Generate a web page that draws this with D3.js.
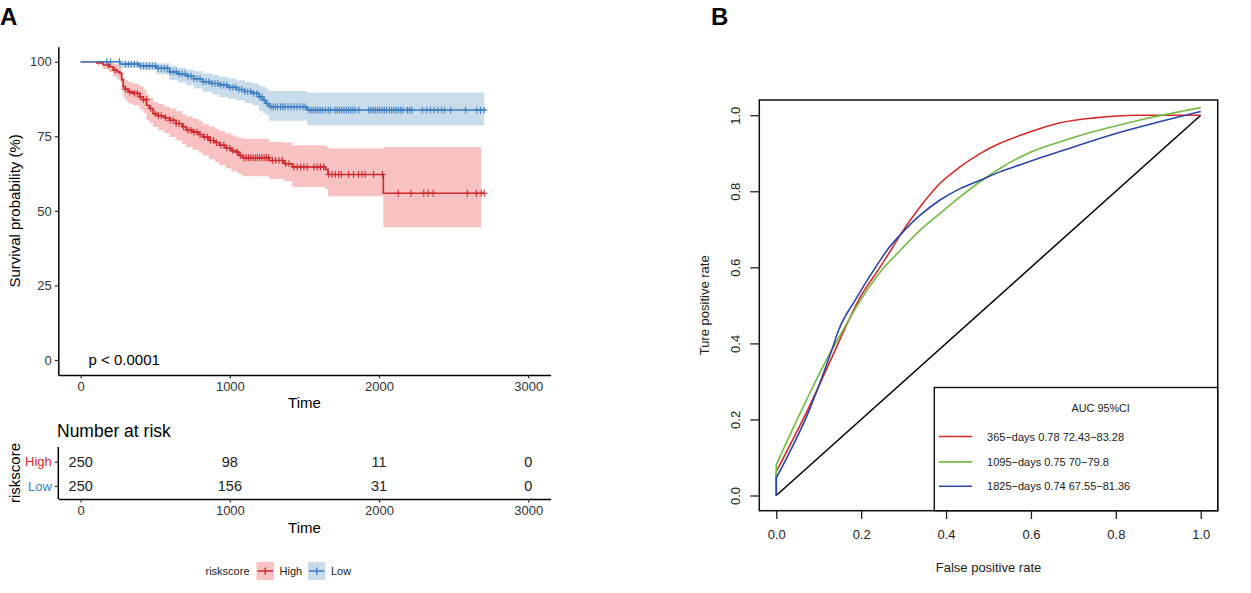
<!DOCTYPE html>
<html><head><meta charset="utf-8">
<script src="https://cdn.jsdelivr.net/npm/d3@7"></script>
<style>
body{margin:0;background:#fff}
svg{display:block}
text{font-family:"Liberation Sans",Arial,Helvetica,sans-serif}
</style>
</head><body>
<svg id="c" width="1251" height="593"></svg>
<script>
// ---------------- Panel A data (Kaplan-Meier) ----------------
const groups = ["High", "Low"];
const highTimes = [0,108,151,190,218,245,263,275,285,300,318,350,396,420,441,460,485,520,560,596,640,680,707,750,790,818,860,900,929,970,1010,1041,1060,1085,1263,1363,1418,1641,1658,2029];
const highSurv  = [100,99.6,98.9,98.3,97.2,96.6,96.1,94.0,91.6,90.8,89.9,89.4,88.2,87.3,85.4,84.3,82.6,81.9,81.2,80.4,79.3,78.2,77.0,76.4,75.6,74.8,73.6,72.9,72.0,71.0,70.2,69.7,68.6,67.8,66.9,65.8,64.7,63.9,62.2,55.9];
const highLower = [100,99,97.5,96.5,95,94,93.3,90.5,88.2,87,86,85.4,84,82.8,80.5,79.5,78.1,77,76,74.8,73.6,72.4,71.4,70.5,69.6,68.6,67.3,66.4,65.3,64.3,63.3,63.0,62.2,61.6,60.8,60.0,58.0,57.3,54.9,44.5];
const highUpper = [100,100,100,99.8,99.4,99,98.5,96.5,94.5,93.8,93.2,92.6,91.8,90.6,88.8,87.8,86.5,85.8,85.0,84.3,83.4,82.4,81.6,80.9,80.0,79.0,78.2,77.5,76.8,76.0,75.3,74.8,74.5,74.2,73.1,72.8,72.0,71.6,70.9,71.4];
const highLineEnd = 2710, highBandEnd = 2685;
const highCensor = [185,230,300,330,360,380,400,420,440,470,500,520,540,570,600,620,640,660,690,720,740,760,780,800,830,850,870,890,910,940,960,980,1000,1020,1050,1070,1095,1110,1125,1140,1155,1170,1185,1200,1215,1230,1245,1260,1285,1307,1329,1352,1374,1396,1429,1452,1474,1496,1518,1563,1585,1607,1629,1663,1685,1707,1729,1747,1796,1829,1863,1885,1907,1963,2023,2129,2214,2300,2329,2363,2592,2652,2685,2705];

const lowTimes  = [0,263,396,508,596,650,707,760,818,880,929,985,1041,1100,1152,1196,1218,1241,1263,1518];
const lowSurv   = [100,99.2,98.6,97.8,96.6,95.9,95.2,94.3,93.3,92.7,92.2,91.4,90.7,90.0,89.4,88.2,87.1,86.0,84.9,83.8];
const lowLower  = [100,98.0,97.2,95.8,93.8,93.0,92.2,91.0,89.9,89.0,88.2,87.6,87.1,86.2,85.4,83.6,82.8,82.1,80.2,78.7];
const lowUpper  = [100,100,99.8,99.5,98.6,98.0,97.4,96.8,96.1,95.6,95.0,94.4,93.8,93.2,92.7,91.9,91.6,91.0,90.2,89.7];
const lowLineEnd = 2718, lowBandEnd = 2705;
const lowCensor = [175,200,260,300,320,340,360,380,400,420,440,460,480,500,520,540,560,580,600,620,640,660,680,700,720,740,760,780,800,820,840,860,880,900,920,940,960,980,1000,1020,1040,1060,1080,1100,1120,1140,1160,1180,1200,1215,1230,1250,1275,1290,1305,1320,1340,1355,1370,1390,1410,1430,1450,1470,1490,1505,1530,1545,1560,1575,1590,1605,1620,1640,1660,1675,1705,1720,1735,1750,1765,1780,1795,1810,1825,1840,1865,1930,1945,1960,1975,1990,2005,2020,2035,2050,2070,2085,2100,2115,2130,2145,2160,2190,2205,2220,2290,2320,2345,2370,2395,2420,2440,2480,2580,2655,2680,2705];

const kmTicksX = [0,1000,2000,3000];
const kmTicksY = [0,25,50,75,100];
const riskTimes = [0,1000,2000,3000];
const riskHigh = [250,98,11,0];
const riskLow  = [250,156,31,0];
const pText = "p < 0.0001";

// ---------------- Panel B data (time-dependent ROC) ----------------
const rocLabels = ["365\u2212days 0.78 72.43\u221283.28","1095\u2212days 0.75 70\u221279.8","1825\u2212days 0.74 67.55\u221281.36"];
const roc365FPR  = [0,0,0.074,0.139,0.160,0.194,0.245,0.270,0.292,0.339,0.386,0.433,0.480,0.527,0.575,0.622,0.669,0.75,0.85,1];
const roc365TPR  = [0,0.063,0.225,0.383,0.435,0.514,0.601,0.645,0.685,0.759,0.821,0.864,0.899,0.926,0.947,0.965,0.980,0.993,1.0,1.0];
const roc1095FPR = [0,0,0.060,0.127,0.155,0.191,0.245,0.290,0.339,0.386,0.433,0.480,0.527,0.575,0.622,0.669,0.699,0.783,0.867,1];
const roc1095TPR = [0,0.081,0.225,0.375,0.430,0.500,0.588,0.642,0.698,0.742,0.785,0.825,0.860,0.890,0.913,0.930,0.941,0.967,0.990,1.02];
const roc1825FPR = [0,0,0.078,0.131,0.147,0.186,0.245,0.261,0.292,0.339,0.386,0.433,0.480,0.527,0.575,0.622,0.669,0.699,0.8,0.9,1];
const roc1825TPR = [0,0.046,0.225,0.383,0.435,0.514,0.619,0.645,0.685,0.737,0.777,0.807,0.829,0.851,0.870,0.888,0.905,0.916,0.952,0.982,1.01];
const rocTicks = [0,0.2,0.4,0.6,0.8,1.0];

// ---------------- styles ----------------
const colHigh = "#CC2A2E", colLow = "#3E7FC1";
const bandHigh = "#E41A1C", bandLow = "#377EB8";
const rocCols = ["#D42B2B","#74BC45","#2C46A6"];

const svg = d3.select("#c");
svg.append("rect").attr("width",1251).attr("height",593).attr("fill","#fff");

// Panel letters
svg.append("text").attr("x",0).attr("y",25).attr("font-size",24).attr("font-weight","bold").text("A");
svg.append("text").attr("x",711).attr("y",25).attr("font-size",24).attr("font-weight","bold").text("B");

// ================= Panel A =================
const kx = d3.scaleLinear().domain([-150,3150]).range([58.3,550.6]);
const ky = d3.scaleLinear().domain([-5,105]).range([374.9,46.8]);

function zipBand(t,lo,hi,end){ const a=t.map((d,i)=>({t:d,lo:lo[i],hi:hi[i]})); a.push({t:end,lo:lo[lo.length-1],hi:hi[hi.length-1]}); return a; }
function zipLine(t,s,end){ const a=t.map((d,i)=>({t:d,s:s[i]})); a.push({t:end,s:s[s.length-1]}); return a; }
function survAt(t,times,surv){ const i=d3.bisectRight(times,t)-1; return surv[Math.max(0,i)]; }

const area = d3.area().curve(d3.curveStepAfter).x(d=>kx(d.t)).y0(d=>ky(d.lo)).y1(d=>ky(d.hi));
const line = d3.line().curve(d3.curveStepAfter).x(d=>kx(d.t)).y(d=>ky(d.s));

const gA = svg.append("g");
gA.append("path").datum(zipBand(highTimes,highLower,highUpper,highBandEnd)).attr("d",area).attr("fill",bandHigh).attr("fill-opacity",0.27);
gA.append("path").datum(zipBand(lowTimes,lowLower,lowUpper,lowBandEnd)).attr("d",area).attr("fill",bandLow).attr("fill-opacity",0.27);
gA.append("path").datum(zipLine(highTimes,highSurv,highLineEnd)).attr("d",line).attr("fill","none").attr("stroke",colHigh).attr("stroke-width",1.6);
gA.append("path").datum(zipLine(lowTimes,lowSurv,lowLineEnd)).attr("d",line).attr("fill","none").attr("stroke",colLow).attr("stroke-width",1.6);

function censor(times,tArr,sArr,col){
  gA.append("g").selectAll("path").data(times).join("path")
    .attr("d",t=>{const x=kx(t), y=ky(survAt(t,tArr,sArr)); return `M${x-3.3},${y}H${x+3.3}M${x},${y-3.4}V${y+3.4}`;})
    .attr("stroke",col).attr("stroke-width",1.1).attr("fill","none");
}
censor(highCensor,highTimes,highSurv,colHigh);
censor(lowCensor,lowTimes,lowSurv,colLow);

// axes
const fmtInt = d3.format("d");
const axY = gA.append("g").attr("transform",`translate(${kx.range()[0]},0)`)
  .call(d3.axisLeft(ky).tickValues(kmTicksY).tickFormat(fmtInt).tickSize(3.5).tickSizeOuter(0).tickPadding(3));
const axX = gA.append("g").attr("transform",`translate(0,${ky.range()[0]})`)
  .call(d3.axisBottom(kx).tickValues(kmTicksX).tickFormat(fmtInt).tickSize(3.5).tickSizeOuter(0).tickPadding(3.5));
[axY,axX].forEach(a=>{
  a.select(".domain").attr("stroke","#000").attr("stroke-width",1.5);
  a.selectAll(".tick line").attr("stroke","#333").attr("stroke-width",1.2);
  a.selectAll(".tick text").attr("font-size",13).attr("fill","#333").attr("font-family","Liberation Sans, Arial, sans-serif");
});
gA.append("text").attr("x",(kx.range()[0]+kx.range()[1])/2).attr("y",402).attr("text-anchor","middle").attr("dominant-baseline","central").attr("font-size",15).text("Time");
gA.append("text").attr("transform",`translate(14.5,${(ky.range()[0]+ky.range()[1])/2}) rotate(-90)`).attr("text-anchor","middle").attr("dominant-baseline","central").attr("font-size",15).text("Survival probability (%)");
gA.append("text").attr("x",88.5).attr("y",ky(0)).attr("dominant-baseline","central").attr("font-size",15).text(pText);

// risk table
const rt = svg.append("g");
const ry = d3.scalePoint().domain(groups).range([461.7,486]);
rt.append("text").attr("x",57).attr("y",430.5).attr("dominant-baseline","central").attr("font-size",17.5).text("Number at risk");
const rAxY = rt.append("g").attr("transform",`translate(${kx.range()[0]},0)`)
  .call(d3.axisLeft(ry).tickSize(3.5).tickPadding(3).tickSizeOuter(0));
rAxY.select(".domain").attr("d","M0,447V499").attr("stroke","#000").attr("stroke-width",1.5);
rAxY.selectAll(".tick line").attr("stroke","#333").attr("stroke-width",1.2);
rAxY.selectAll(".tick text").attr("font-size",13).attr("font-family","Liberation Sans, Arial, sans-serif")
  .attr("fill",d=>d==="High"?colHigh:colLow);
const rAxX = rt.append("g").attr("transform","translate(0,499)")
  .call(d3.axisBottom(kx).tickValues(kmTicksX).tickFormat(fmtInt).tickSize(3.5).tickSizeOuter(0).tickPadding(3.5));
rAxX.select(".domain").attr("stroke","#000").attr("stroke-width",1.5);
rAxX.selectAll(".tick line").attr("stroke","#333").attr("stroke-width",1.2);
rAxX.selectAll(".tick text").attr("font-size",13).attr("fill","#333").attr("font-family","Liberation Sans, Arial, sans-serif");
[[riskHigh,"High"],[riskLow,"Low"]].forEach(([vals,g])=>{
  rt.append("g").selectAll("text").data(vals).join("text")
    .attr("x",(d,i)=>kx(riskTimes[i])).attr("y",ry(g)).attr("text-anchor","middle").attr("dominant-baseline","central")
    .attr("font-size",14.5).attr("fill","#222").text(d=>d);
});
rt.append("text").attr("x",(kx.range()[0]+kx.range()[1])/2).attr("y",527.5).attr("text-anchor","middle").attr("dominant-baseline","central").attr("font-size",15).text("Time");
rt.append("text").attr("transform","translate(14.5,473) rotate(-90)").attr("text-anchor","middle").attr("dominant-baseline","central").attr("font-size",15).text("riskscore");

// legend
const lg = svg.append("g");
lg.append("text").attr("x",205.5).attr("y",571).attr("dominant-baseline","central").attr("font-size",11).attr("fill","#222").text("riskscore");
const legX = [256.5,308];
groups.forEach((g,i)=>{
  const x0 = legX[i];
  lg.append("rect").attr("x",x0).attr("y",562).attr("width",17.5).attr("height",18).attr("fill",i===0?bandHigh:bandLow).attr("fill-opacity",0.27);
  lg.append("path").attr("d",`M${x0+1},571H${x0+16.5}M${x0+8.75},567.5V574.5`).attr("stroke",i===0?colHigh:colLow).attr("stroke-width",1.4).attr("fill","none");
  lg.append("text").attr("x",x0+23).attr("y",571).attr("dominant-baseline","central").attr("font-size",11).attr("fill","#222").text(g);
});

// ================= Panel B =================
const rx = d3.scaleLinear().domain([-0.04,1.04]).range([759.3,1217.7]);
const rY = d3.scaleLinear().domain([-0.04,1.04]).range([510.7,100]);
const gB = svg.append("g");

const bx = gB.append("g").attr("transform",`translate(0,${rY.range()[0]})`)
  .call(d3.axisBottom(rx).tickValues(rocTicks).tickFormat(d3.format(".1f")).tickSize(8.3).tickSizeOuter(0).tickPadding(11));
const by = gB.append("g").attr("transform",`translate(${rx.range()[0]},0)`)
  .call(d3.axisLeft(rY).tickValues(rocTicks).tickFormat(d3.format(".1f")).tickSize(9).tickSizeOuter(0));
[bx,by].forEach(a=>{
  a.select(".domain").remove();
  a.selectAll(".tick line").attr("stroke","#222").attr("stroke-width",1.3);
  a.selectAll(".tick text").attr("font-size",13).attr("fill","#222").attr("font-family","Liberation Sans, Arial, sans-serif");
});
by.selectAll(".tick text").attr("x",null).attr("dy",null).attr("text-anchor","middle").attr("dominant-baseline","central")
  .attr("transform","translate(-24,0) rotate(-90)");

gB.append("line").attr("x1",rx(0)).attr("y1",rY(0)).attr("x2",rx(1)).attr("y2",rY(1)).attr("stroke","#000").attr("stroke-width",1.5);

// ROC: vertical start at FPR=0, then a smooth monotone curve
const rocSmooth = d3.line().curve(d3.curveMonotoneX).x(d=>rx(d[0])).y(d=>rY(d[1]));
const rocSets = [[roc365FPR,roc365TPR],[roc1095FPR,roc1095TPR],[roc1825FPR,roc1825TPR]];
rocSets.forEach(([f,t],i)=>{
  const pts = f.map((v,j)=>[v,t[j]]);
  const rest = pts.slice(1);
  const d = `M${rx(pts[0][0])},${rY(pts[0][1])}L` + rocSmooth(rest).slice(1);
  gB.append("path").attr("d",d).attr("fill","none")
    .attr("stroke",rocCols[i]).attr("stroke-width",1.6).attr("stroke-linejoin","round");
});

gB.append("rect").attr("x",rx.range()[0]).attr("y",rY.range()[1]).attr("width",rx.range()[1]-rx.range()[0]).attr("height",rY.range()[0]-rY.range()[1])
  .attr("fill","none").attr("stroke","#111").attr("stroke-width",1.5);

// legend box
const lx0 = 934.3, ly0 = 387.5;
gB.append("rect").attr("x",lx0).attr("y",ly0).attr("width",rx.range()[1]-lx0).attr("height",rY.range()[0]-ly0)
  .attr("fill","#fff").attr("stroke","#111").attr("stroke-width",1.4);
gB.append("text").attr("x",1100.7).attr("y",408.4).attr("text-anchor","middle").attr("dominant-baseline","central").attr("font-size",10.8).attr("fill","#222").text("AUC 95%CI");
const legRows = [436.5,461.9,486.2];
rocLabels.forEach((lab,i)=>{
  gB.append("line").attr("x1",938.9).attr("x2",972.1).attr("y1",legRows[i]).attr("y2",legRows[i]).attr("stroke",rocCols[i]).attr("stroke-width",1.6);
  gB.append("text").attr("x",987.1).attr("y",legRows[i]).attr("dominant-baseline","central").attr("font-size",11).attr("fill","#222").text(lab);
});

gB.append("text").attr("x",(rx.range()[0]+rx.range()[1])/2).attr("y",567.4).attr("text-anchor","middle").attr("dominant-baseline","central").attr("font-size",13).attr("fill","#222").text("False positive rate");
gB.append("text").attr("transform",`translate(704.3,${(rY.range()[0]+rY.range()[1])/2}) rotate(-90)`).attr("text-anchor","middle").attr("dominant-baseline","central").attr("font-size",13).attr("fill","#222").text("Ture positive rate");
</script>
</body></html>
